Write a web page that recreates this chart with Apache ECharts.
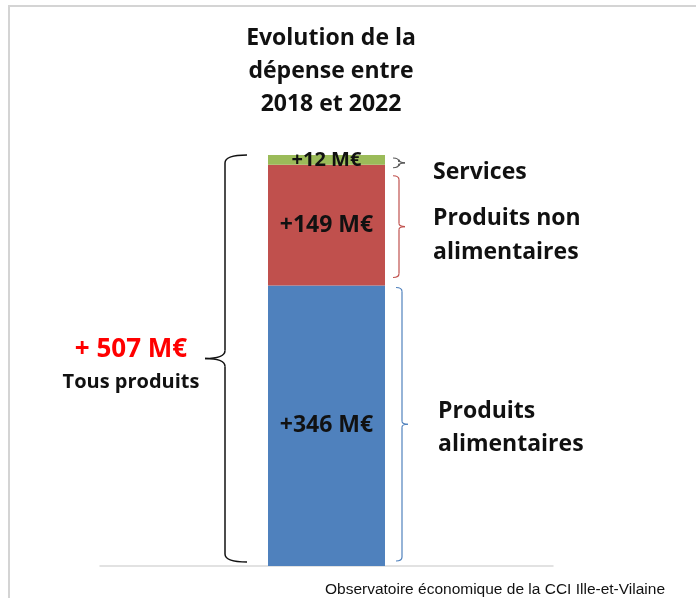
<!DOCTYPE html>
<html>
<head>
<meta charset="utf-8">
<script src="https://cdn.jsdelivr.net/npm/echarts@6/dist/echarts.min.js"></script>
<style>
html,body{margin:0;padding:0;background:#fff;}
#chart{width:696px;height:598px;}
</style>
</head>
<body>
<div id="chart"></div>
<script>
var categories = ['2018-2022'];
var segNames = ['Produits alimentaires', 'Produits non alimentaires', 'Services'];
var segValues = [346, 149, 12];
var segColors = ['#4f81bd', '#c0504d', '#9bbb59'];
var totalValue = 507;

var chart = echarts.init(document.getElementById('chart'));
var font = '"Open Sans", Lato, sans-serif';

var series = [];
for (var i = 0; i < segValues.length; i++) {
	series.push({
		name: segNames[i],
		type: 'bar',
		stack: 'total',
		barWidth: 117,
		data: [segValues[i]],
		itemStyle: { color: segColors[i] },
		label: {
			show: true,
			position: 'inside',
			formatter: '+{c} M€',
			color: '#111',
			fontFamily: font,
			fontWeight: 700,
			fontSize: i == 2 ? 20 : 23
		}
	});
}

chart.setOption({
	animation: false,
	backgroundColor: '#fff',
	grid: { left: 100, right: 143, top: 155, bottom: 32 },
	xAxis: {
		type: 'category',
		data: categories,
		axisLine: { lineStyle: { color: '#d9d9d9', width: 1.5 } },
		axisTick: { show: false },
		axisLabel: { show: false }
	},
	yAxis: {
		type: 'value',
		min: 0,
		max: totalValue,
		show: false
	},
	series: series
});

function py(v) {
	return chart.convertToPixel({ yAxisIndex: 0 }, v);
}

// a brace is a chain of straight lines and quadratic curves
function line(x1, y1, x2, y2, st) {
	return { type: 'line', shape: { x1: x1, y1: y1, x2: x2, y2: y2 }, style: st };
}
function curve(x1, y1, cx, cy, x2, y2, st) {
	return { type: 'bezierCurve', shape: { x1: x1, y1: y1, x2: x2, y2: y2, cpx1: cx, cpy1: cy }, style: st };
}

function rightBrace(x, y0, y1, color) {
	var m = (y0 + y1) / 2;
	var st = { fill: null, stroke: color, lineWidth: 1.2 };
	var v = x + 6;
	return { type: 'group', children: [
		curve(x, y0, v, y0, v, y0 + 4, st),
		line(v, y0 + 4, v, m - 3, st),
		curve(v, m - 3, v, m, x + 12, m, st),
		curve(x + 12, m, v, m, v, m + 3, st),
		line(v, m + 3, v, y1 - 4, st),
		curve(v, y1 - 4, v, y1, x, y1, st)
	] };
}

function leftBrace(x, y0, y1, color) {
	var m = (y0 + y1) / 2;
	var st = { fill: null, stroke: color, lineWidth: 1.5 };
	var v = x - 22;
	return { type: 'group', children: [
		curve(x, y0, v, y0, v, y0 + 8, st),
		line(v, y0 + 8, v, m - 8, st),
		curve(v, m - 8, v, m, v - 20, m, st),
		curve(v - 20, m, v, m, v, m + 8, st),
		line(v, m + 8, v, y1 - 8, st),
		curve(v, y1 - 8, v, y1, x, y1, st)
	] };
}

var yTop = py(totalValue), yBase = py(0);
var yA = py(segValues[0]), yB = py(segValues[0] + segValues[1]);

function txt(x, y, s, size, color, align, lh) {
	return {
		type: 'text', x: x, y: y,
		style: {
			text: s, fill: color || '#111', fontFamily: font,
			fontSize: size, fontWeight: 700,
			align: align || 'left', verticalAlign: 'middle', lineHeight: lh || Math.round(size * 1.45)
		}
	};
}

chart.setOption({
	graphic: [
		{ type: 'polyline', shape: { points: [[9, 598], [9, 6], [696, 6]] },
			style: { fill: null, stroke: '#d4d4d4', lineWidth: 2 } },
		leftBrace(247, yTop, yBase - 4, '#111'),
		rightBrace(393, yTop + 3, yB + 3, '#595959'),
		rightBrace(393, yB + 11, yA - 8, '#c0504d'),
		rightBrace(396, yA + 2, yBase - 5, '#4f81bd'),
		txt(331, 71, 'Evolution de la\ndépense entre\n2018 et 2022', 23, '#111', 'center', 33),
		txt(131, 350, '+ 507 M€', 26, '#ff0000', 'center'),
		txt(131, 382, 'Tous produits', 20, '#111', 'center'),
		txt(433, 172, 'Services', 23),
		txt(433, 235, 'Produits non\nalimentaires', 23, null, null, 34),
		txt(438, 428, 'Produits\nalimentaires', 23, null, null, 33),
		{ type: 'text', x: 665, y: 590, style: { text: 'Observatoire économique de la CCI Ille-et-Vilaine',
			fill: '#111', fontFamily: '"Liberation Sans", Arial, sans-serif', fontSize: 15.5,
			align: 'right', verticalAlign: 'middle' } }
	]
});
</script>
</body>
</html>
